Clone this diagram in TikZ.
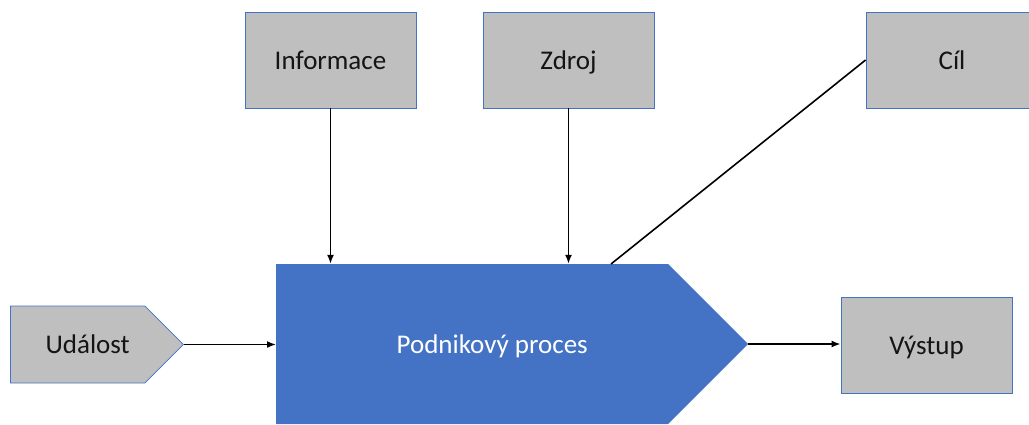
\documentclass[tikz,border=0pt]{standalone}
\usepackage{fontspec}
\setmainfont{Carlito}
\usepackage{tikz}
\usetikzlibrary{shapes.symbols,arrows.meta}
\definecolor{procblue}{HTML}{4472C4}
\definecolor{boxgray}{HTML}{BFBFBF}
\definecolor{boxtext}{HTML}{141414}

\begin{document}
\begin{tikzpicture}[x=1pt,y=-1pt,
    label_text/.style={font=\fontsize{27}{32}\selectfont,text height=24pt,text depth=6pt},
    box_node/.style={rectangle,draw=procblue,line width=0.8pt,fill=boxgray,text=boxtext,
        minimum width=171pt,minimum height=96pt,inner sep=0pt,label_text},
    arrow_node/.style={signal,signal to=east,signal pointer angle=90,inner sep=0pt,anchor=west,label_text},
    link/.style={line width=1.6pt,-{Latex[length=9pt,width=7pt]}}]

    \useasboundingbox (0,0) rectangle (1029,424);

    \node[box_node] (info) at (330.5, 60) {Informace};
    \node[box_node] (source) at (568.5, 60) {Zdroj};
    \node[box_node, minimum width=172pt] (goal) at (952, 60) {Cíl};
    \node[arrow_node, draw=procblue, line width=0.8pt, fill=boxgray, text=boxtext,
        minimum width=173pt, minimum height=77pt] (event) at (10, 344.5) {\hspace*{20pt}Událost};
    \node[arrow_node, fill=procblue, text=white,
        minimum width=472pt, minimum height=160pt] (process) at (276, 344) {\hspace*{40pt}Podnikový proces};
    \node[box_node] (output) at (926.5, 345) {Výstup};
    \coordinate (goalin) at (611, 264);

    \draw[link] (info) -- (info |- process.north);
    \draw[link] (source) -- (source |- process.north);
    \draw[line width=1.6pt] (goal.west) -- (goalin);
    \draw[link] (event.east) -- (event.east -| process.west);
    \draw[link] (process.east) -- (process.east -| output.west);

\end{tikzpicture}
\end{document}
